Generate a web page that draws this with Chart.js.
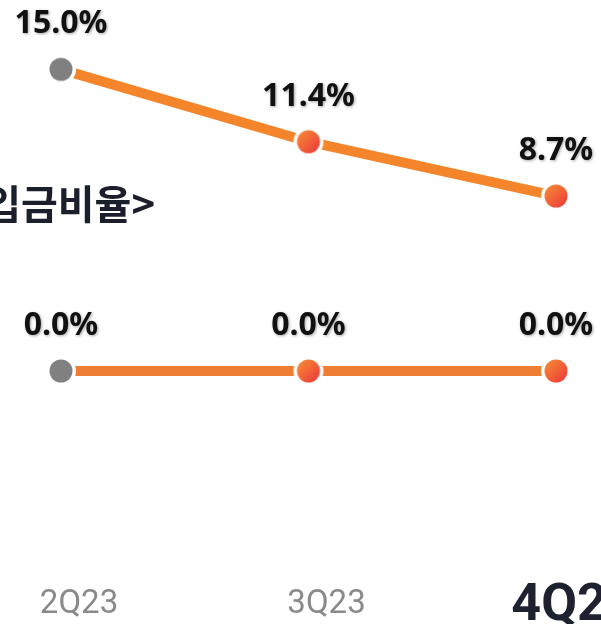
<!DOCTYPE html>
<html>
<head>
<meta charset="utf-8">
<script src="https://cdn.jsdelivr.net/npm/chart.js@4"></script>
<style>
html,body{margin:0;padding:0;background:#ffffff;}
canvas{display:block;}
</style>
</head>
<body>
<canvas id="c" width="601" height="624"></canvas>
<script>
const categories = ['2Q23', '3Q23', '4Q23'];
const seriesTop = [15.0, 11.4, 8.7];
const seriesBottom = [0.0, 0.0, 0.0];
const sectionTitle = '<입금비율>';

function makeDot(kind) {
  const s = 32, c = document.createElement('canvas');
  c.width = s; c.height = s;
  const g = c.getContext('2d');
  g.beginPath(); g.arc(s/2, s/2, 15, 0, Math.PI*2); g.fillStyle = '#ffffff'; g.fill();
  g.beginPath(); g.arc(s/2, s/2, 11.5, 0, Math.PI*2);
  if (kind === 'grey') {
    g.fillStyle = '#808080';
  } else {
    const gr = g.createLinearGradient(6, 6, 26, 26);
    gr.addColorStop(0, '#F88A35');
    gr.addColorStop(1, '#EC3B3A');
    g.fillStyle = gr;
  }
  g.fill();
  return c;
}
const greyDot = makeDot('grey');
const orangeDot = makeDot('orange');

const labelPlugin = {
  id: 'customLabels',
  afterDatasetsDraw(chart) {
    const ctx = chart.ctx;
    ctx.save();
    // data labels
    ctx.font = 'bold 32px "Noto Sans"';
    ctx.textAlign = 'center';
    ctx.textBaseline = 'alphabetic';
    ctx.fillStyle = '#111111';
    ctx.shadowColor = 'rgba(0,0,0,0.35)';
    ctx.shadowBlur = 3;
    ctx.shadowOffsetX = 1;
    ctx.shadowOffsetY = 1;
    chart.data.datasets.forEach((ds, di) => {
      const meta = chart.getDatasetMeta(di);
      meta.data.forEach((pt, i) => {
        ctx.fillText(ds.data[i].toFixed(1) + '%', pt.x, pt.y - 36);
      });
    });
    ctx.shadowColor = 'transparent';
    ctx.shadowBlur = 0; ctx.shadowOffsetX = 0; ctx.shadowOffsetY = 0;
    // x category labels
    const xs = chart.scales.x;
    categories.forEach((lab, i) => {
      const x = xs.getPixelForValue(i) + 18;
      const last = i === categories.length - 1;
      ctx.font = last ? 'bold 52px Roboto' : '33px Roboto';
      ctx.fillStyle = last ? '#1e2130' : '#8a8a8a';
      ctx.fillText(lab, x, last ? 620 : 613);
    });
    // section title
    ctx.font = 'bold 40px "Noto Sans CJK KR"';
    ctx.textAlign = 'right';
    ctx.textBaseline = 'middle';
    ctx.fillStyle = '#1b1f2b';
    ctx.fillText(sectionTitle, 155, 204);
    ctx.restore();
  }
};

new Chart(document.getElementById('c'), {
  type: 'line',
  data: {
    labels: categories,
    datasets: [
      {
        data: seriesTop,
        borderColor: '#F5852A',
        borderWidth: 10,
        tension: 0,
        pointStyle: (ctx) => ctx.dataIndex === 0 ? greyDot : orangeDot,
        pointRadius: 15,
        clip: false
      },
      {
        data: seriesBottom,
        borderColor: '#EE7E33',
        borderWidth: 10,
        tension: 0,
        pointStyle: (ctx) => ctx.dataIndex === 0 ? greyDot : orangeDot,
        pointRadius: 15,
        clip: false
      }
    ]
  },
  options: {
    responsive: false,
    animation: false,
    layout: { autoPadding: false, padding: { left: 61, right: 45, top: 9, bottom: 72 } },
    plugins: { legend: { display: false }, tooltip: { enabled: false } },
    scales: {
      x: { type: 'category', display: false, offset: false },
      y: { type: 'linear', display: false, min: -9, max: 18 }
    }
  },
  plugins: [labelPlugin]
});
</script>
</body>
</html>
